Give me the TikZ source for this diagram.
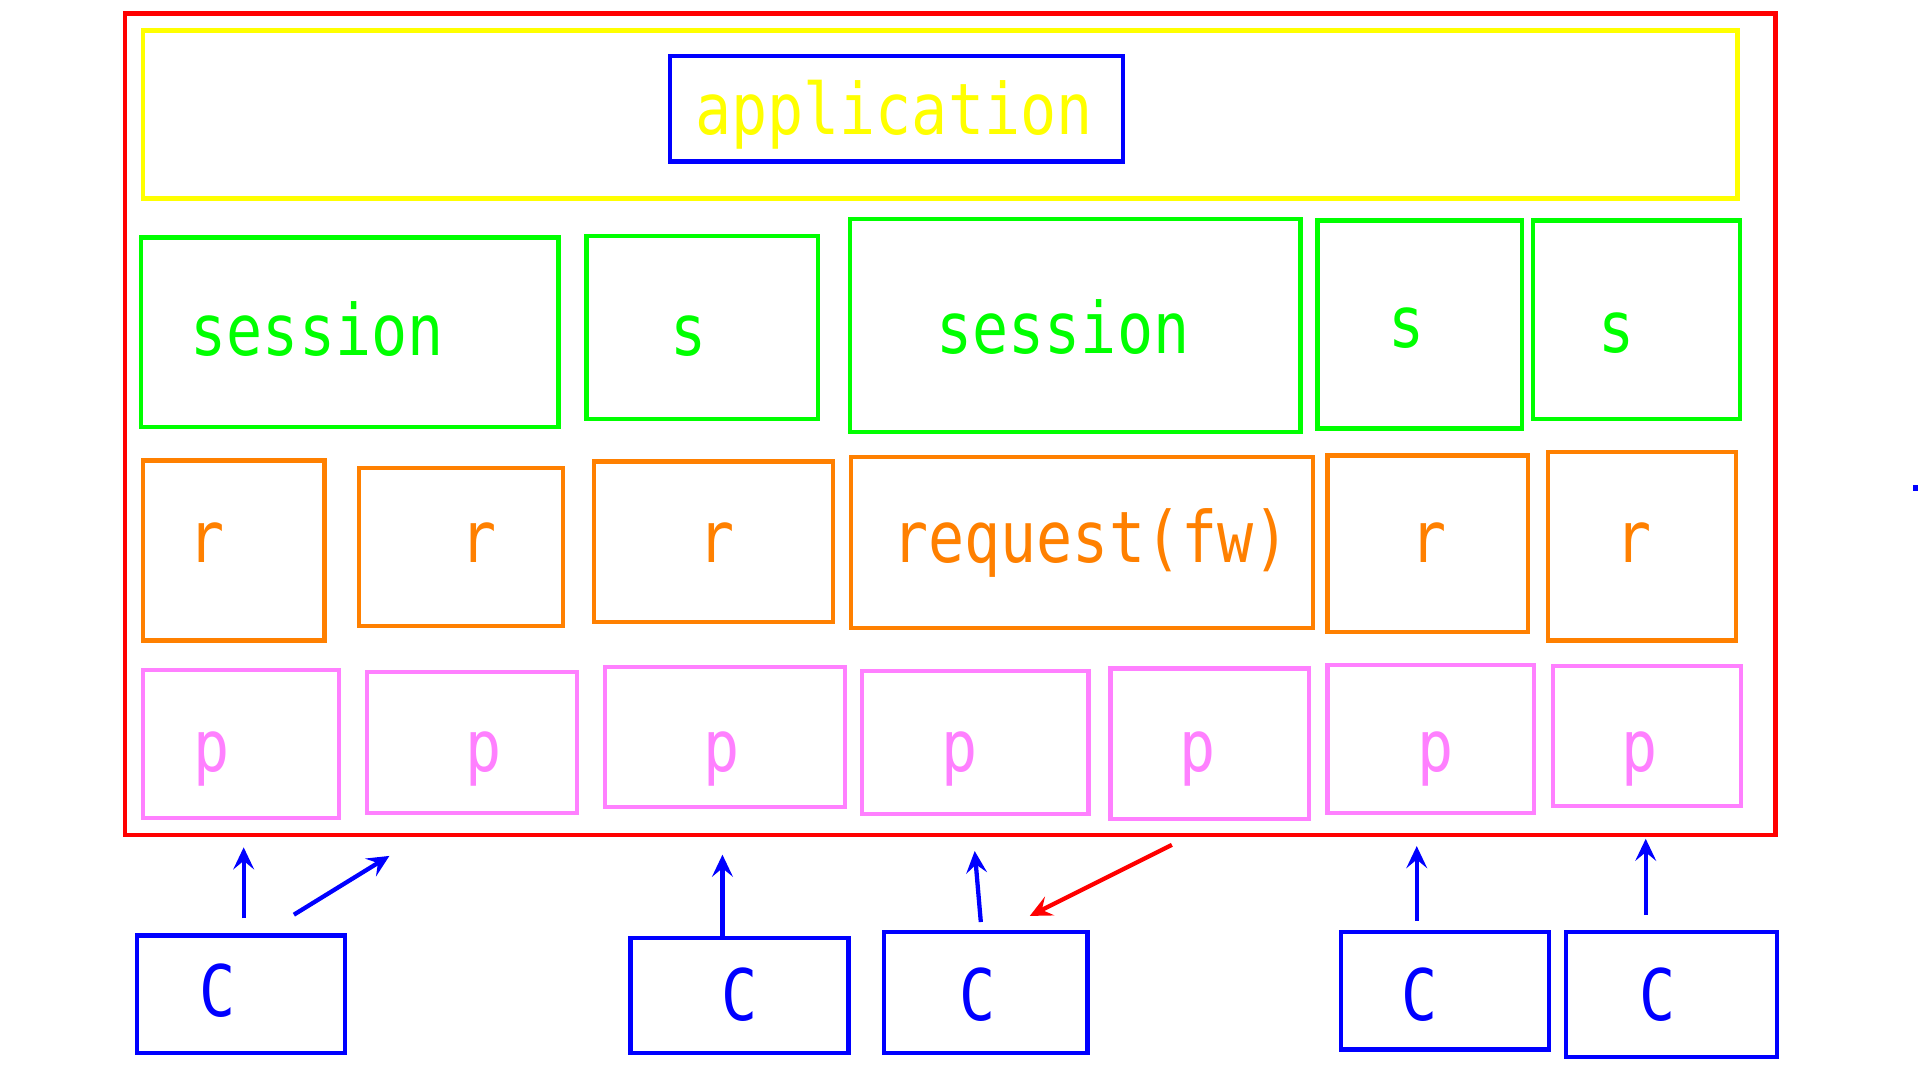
\documentclass[tikz,border=0pt]{standalone}
\usepackage{fontspec}
\newfontfamily\labfont[FakeStretch=0.845]{DejaVu Sans Mono}
\usetikzlibrary{fit,arrows.meta}
\definecolor{cred}{RGB}{255,0,0}
\definecolor{cyel}{RGB}{255,255,0}
\definecolor{cgreen}{RGB}{0,255,0}
\definecolor{corange}{RGB}{255,128,0}
\definecolor{cpink}{RGB}{255,128,255}
\definecolor{cblue}{RGB}{0,0,255}
\begin{document}
\begin{tikzpicture}[x=1pt,y=-1pt,
  box/.style={draw, line width=3.5pt, inner sep=0pt},
  gbox/.style={box, draw=cgreen},
  obox/.style={box, draw=corange},
  pbox/.style={box, draw=cpink},
  cbox/.style={box, draw=cblue},
  lab/.style={anchor=base, inner sep=0pt, font=\labfont\fontsize{58}{60}\selectfont},
  arr/.style={line width=3.5pt, -{Stealth[length=18pt,width=17pt,inset=7pt]}}]
\useasboundingbox (0,0) rectangle (1568,882);
\fill[white] (0,0) rectangle (1568,882);

% outer and application
\node[box, draw=cred, fit={(102,11) (1450,682)}] (outer) {};
\node[box, draw=cyel, fit={(117,25) (1419,162)}] (applayer) {};
\node[cbox, fit={(547,46) (917,132)}] (appbox) {};
\node[lab, text=cyel] (apptext) at (730,110) {application};

% session layer
\node[gbox, fit={(115,194) (456,349)}] (g1) {};
\node[gbox, fit={(479,193) (668,342)}] (g2) {};
\node[gbox, fit={(694,179) (1062,353)}] (g3) {};
\node[gbox, fit={(1076,180) (1243,350)}] (g4) {};
\node[gbox, fit={(1252,180) (1421,342)}] (g5) {};
\node[lab, text=cgreen] (tg1) at (259,290) {session};
\node[lab, text=cgreen] (tg2) at (562,290) {s};
\node[lab, text=cgreen] (tg3) at (868,289) {session};
\node[lab, text=cgreen] (tg4) at (1149,284) {s};
\node[lab, text=cgreen] (tg5) at (1320,288) {s};

% request layer
\node[obox, fit={(117,376) (265,523)}] (o1) {};
\node[obox, fit={(293,382) (460,511)}] (o2) {};
\node[obox, fit={(485,377) (680,508)}] (o3) {};
\node[obox, fit={(695,373) (1072,513)}] (o4) {};
\node[obox, fit={(1084,372) (1248,516)}] (o5) {};
\node[obox, fit={(1264,369) (1418,523)}] (o6) {};
\node[lab, text=corange] (to1) at (169,459) {r};
\node[lab, text=corange] (to2) at (391,459) {r};
\node[lab, text=corange] (to3) at (585,459) {r};
\node[lab, text=corange] (to4) at (891,459) {request(fw)};
\node[lab, text=corange] (to5) at (1167,459) {r};
\node[lab, text=corange] (to6) at (1334,459) {r};

% p layer
\node[pbox, fit={(117,547) (277,668)}] (p1) {};
\node[pbox, fit={(300,549) (471,664)}] (p2) {};
\node[pbox, fit={(494,545) (690,659)}] (p3) {};
\node[pbox, fit={(704,548) (889,665)}] (p4) {};
\node[pbox, fit={(907,546) (1069,669)}] (p5) {};
\node[pbox, fit={(1084,543) (1253,664)}] (p6) {};
\node[pbox, fit={(1268,544) (1422,658)}] (p7) {};
\node[lab, text=cpink] (tp1) at (173,630) {p};
\node[lab, text=cpink] (tp2) at (395,630) {p};
\node[lab, text=cpink] (tp3) at (589,630) {p};
\node[lab, text=cpink] (tp4) at (784,630) {p};
\node[lab, text=cpink] (tp5) at (978,630) {p};
\node[lab, text=cpink] (tp6) at (1172,630) {p};
\node[lab, text=cpink] (tp7) at (1339,630) {p};

% clients
\node[cbox, fit={(112,764) (282,860)}] (c1) {};
\node[cbox, fit={(515,766) (693,860)}] (c2) {};
\node[cbox, fit={(722,761) (888,860)}] (c3) {};
\node[cbox, fit={(1095,761) (1265,857)}] (c4) {};
\node[cbox, fit={(1279,761) (1451,863)}] (c5) {};
\node[lab, text=cblue] (tc1) at (178,830) {C};
\node[lab, text=cblue] (tc2) at (604,833) {C};
\node[lab, text=cblue] (tc3) at (798,833) {C};
\node[lab, text=cblue] (tc4) at (1159,833) {C};
\node[lab, text=cblue] (tc5) at (1354,833) {C};

% arrow end points
\coordinate (a1s) at (199,750); \coordinate (a1e) at (199,692);
\coordinate (a2s) at (240,747); \coordinate (a2e) at (318,699);
\coordinate (a3s) at (590,764); \coordinate (a3e) at (590,698);
\coordinate (a4s) at (801,753); \coordinate (a4e) at (796,695);
\coordinate (a5s) at (1157,752); \coordinate (a5e) at (1157,691);
\coordinate (a6s) at (1344,747); \coordinate (a6e) at (1344,685);
\coordinate (a7s) at (957,690); \coordinate (a7e) at (841,748);

\draw[arr, cblue] (a1s) -- (a1e);
\draw[arr, cblue] (a2s) -- (a2e);
\draw[arr, cblue] (a3s) -- (a3e);
\draw[arr, cblue] (a4s) -- (a4e);
\draw[arr, cblue] (a5s) -- (a5e);
\draw[arr, cblue] (a6s) -- (a6e);
\draw[arr, cred] (a7s) -- (a7e);

% stray mark at right edge
\fill[cblue] (1562,396) rectangle (1566,401);
\end{tikzpicture}
\end{document}
